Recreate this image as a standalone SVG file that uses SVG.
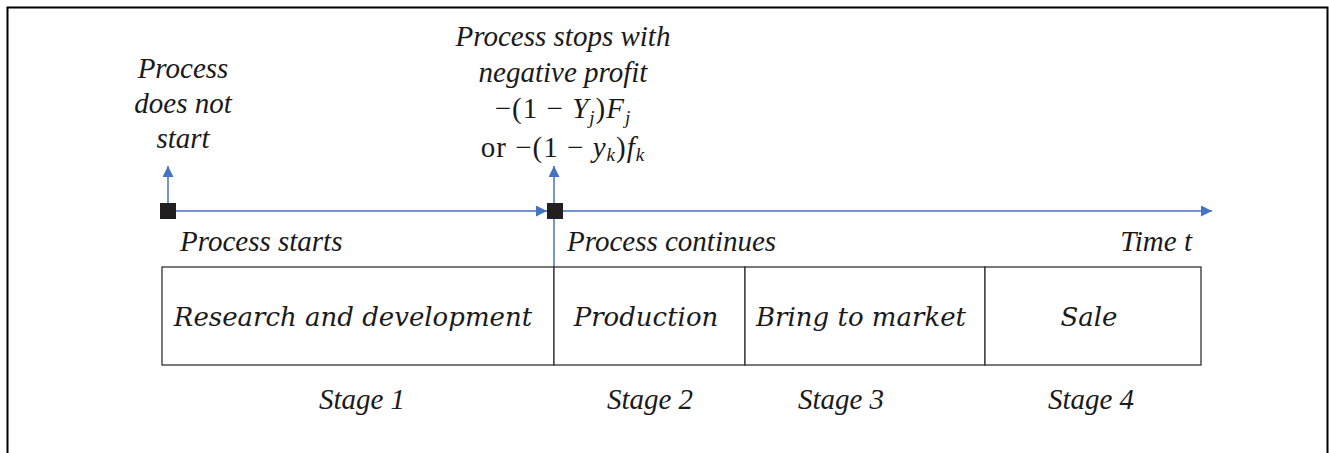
<svg xmlns="http://www.w3.org/2000/svg" width="1329" height="453" viewBox="0 0 1329 453">
<defs>
<marker id="ah" viewBox="0 0 10 10" refX="10" refY="5" markerWidth="11" markerHeight="11" markerUnits="userSpaceOnUse" orient="auto">
<path d="M0,0 L10,5 L0,10 z" fill="#4472c4"/>
</marker>
<style>
.lbl{font-family:"Liberation Serif",serif;font-style:italic;font-size:29px;fill:#1a1a1a}
.up{font-family:"Liberation Serif",serif;font-size:29px;fill:#1a1a1a}
.box{fill:#fff;stroke:#333;stroke-width:1.3}
.bt{font-family:"DejaVu Serif",serif;font-style:italic;font-size:26px;fill:#1a1a1a}
.ln{stroke:#4472c4;stroke-width:1.5;fill:none}
.sq{fill:#231f20}
</style>
</defs>
<rect x="7.5" y="7.5" width="1320" height="460" fill="#fff" stroke="#000" stroke-width="2"/>
<g id="connectors">
<line class="ln" x1="168" y1="211" x2="168" y2="166" marker-end="url(#ah)"/>
<line class="ln" x1="175" y1="211" x2="547" y2="211" marker-end="url(#ah)"/>
<line class="ln" x1="554" y1="267" x2="554" y2="166" marker-end="url(#ah)"/>
<line class="ln" x1="562" y1="211" x2="1212" y2="211" marker-end="url(#ah)"/>
</g>
<g id="start-node">
<rect class="sq" x="160" y="203" width="16" height="16"/>
<text class="lbl" text-anchor="middle"><tspan x="183" y="78">Process</tspan><tspan x="183" y="113">does not</tspan><tspan x="183" y="148">start</tspan></text>
<text class="lbl" x="180" y="251">Process starts</text>
</g>
<g id="stop-node">
<rect class="sq" x="547" y="203" width="16" height="16"/>
<text class="lbl" text-anchor="middle"><tspan x="563" y="46">Process stops with</tspan><tspan x="563" y="82">negative profit</tspan></text>
<text class="up" x="563" y="118" text-anchor="middle" letter-spacing="1">−(1 −  <tspan font-style="italic">Y</tspan><tspan font-style="italic" font-size="19" dy="6">j</tspan><tspan dy="-6">)</tspan><tspan font-style="italic">F</tspan><tspan font-style="italic" font-size="19" dy="6">j</tspan></text>
<text class="up" x="563" y="157" text-anchor="middle" letter-spacing="1">or −(1 −  <tspan font-style="italic">y</tspan><tspan font-style="italic" font-size="19" dy="4">k</tspan><tspan dy="-4">)</tspan><tspan font-style="italic">f</tspan><tspan font-style="italic" font-size="19" dy="4">k</tspan></text>
<text class="lbl" x="567" y="251">Process continues</text>
</g>
<g id="time-label">
<text class="lbl" x="1192" y="251" text-anchor="end">Time t</text>
</g>
<g id="stage1">
<rect class="box" x="162" y="267" width="392" height="98"/>
<text class="bt" x="353" y="326" text-anchor="middle">Research and development</text>
<text class="lbl" x="362" y="409" text-anchor="middle">Stage 1</text>
</g>
<g id="stage2">
<rect class="box" x="554" y="267" width="191" height="98"/>
<text class="bt" x="646" y="326" text-anchor="middle">Production</text>
<text class="lbl" x="650" y="409" text-anchor="middle">Stage 2</text>
</g>
<g id="stage3">
<rect class="box" x="745" y="267" width="240" height="98"/>
<text class="bt" x="861" y="326" text-anchor="middle">Bring to market</text>
<text class="lbl" x="841" y="409" text-anchor="middle">Stage 3</text>
</g>
<g id="stage4">
<rect class="box" x="985" y="267" width="216" height="98"/>
<text class="bt" x="1089" y="326" text-anchor="middle">Sale</text>
<text class="lbl" x="1091" y="409" text-anchor="middle">Stage 4</text>
</g>
</svg>
